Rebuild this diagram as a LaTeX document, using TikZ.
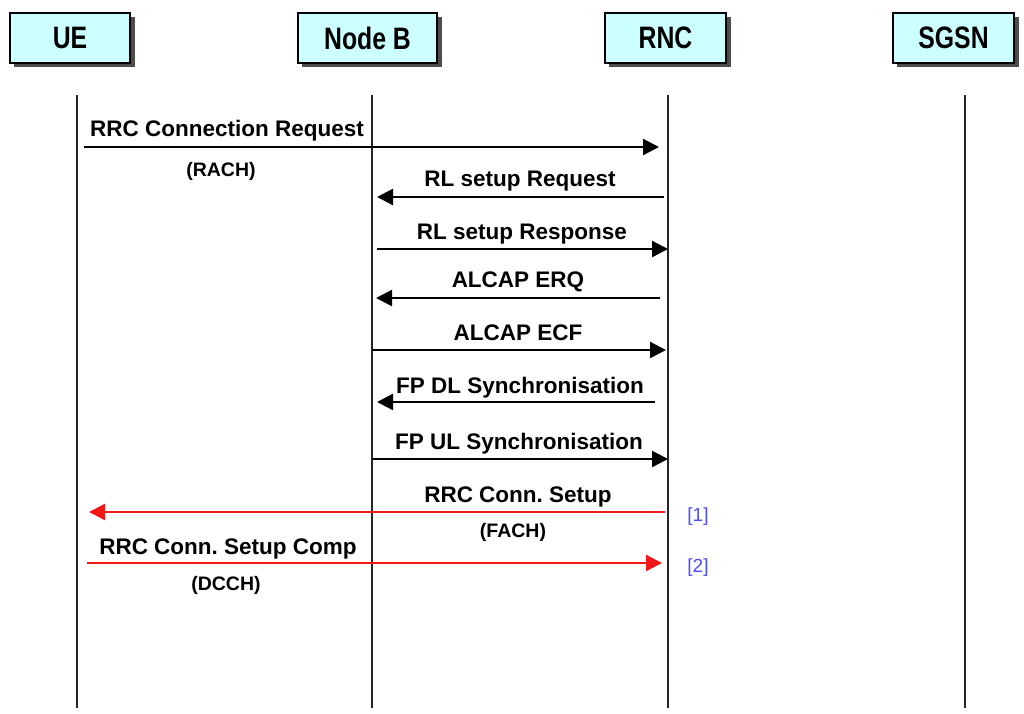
\documentclass[tikz,border=0pt]{standalone}
\usepackage{fontspec}
\setmainfont{Liberation Sans}
\usetikzlibrary{arrows.meta}
\definecolor{boxfill}{HTML}{CCFFFF}
\definecolor{refblue}{HTML}{4B4BFF}
\definecolor{msgred}{HTML}{F01818}
\tikzset{
  ent/.style={draw=black,line width=2.2pt,fill=boxfill,minimum height=50pt,inner sep=0pt},
  shadowbox/.style={fill=black!70,draw=none,minimum height=50pt,inner sep=0pt},
  life/.style={line width=2.2pt,black!85},
  msg/.style={line width=2.3pt,-{Triangle[length=16pt,width=16pt]}},
  redmsg/.style={msg,msgred},
  lbl/.style={anchor=base,inner sep=0pt,font=\fontsize{22.5}{25}\selectfont\bfseries},
  sub/.style={anchor=base,inner sep=0pt,font=\fontsize{19.5}{22}\selectfont\bfseries},
  refl/.style={anchor=base,inner sep=0pt,text=refblue,font=\fontsize{19}{22}\selectfont}
}
\newcommand{\hdr}[1]{\scalebox{0.8}[1]{\fontsize{31}{34}\selectfont\bfseries #1}}
\frenchspacing
\begin{document}
\begin{tikzpicture}[x=1pt,y=-1pt]
\useasboundingbox (0,0) rectangle (1024,713);
% shadows
\node[shadowbox,minimum width=121pt] at (74,42) {};
\node[shadowbox,minimum width=140pt] at (371.5,42) {};
\node[shadowbox,minimum width=122pt] at (669.5,42) {};
\node[shadowbox,minimum width=122pt] at (957.5,42) {};
% entity boxes
\node[ent,minimum width=120pt] (ue) at (70,38) {\hdr{UE}};
\node[ent,minimum width=139pt] (nb) at (367.5,38) {\hdr{Node B}};
\node[ent,minimum width=121pt] (rnc) at (665.5,38) {\hdr{RNC}};
\node[ent,minimum width=121pt] (sgsn) at (953.5,38) {\hdr{SGSN}};
% lifelines
\coordinate (ueT) at (77,95);   \coordinate (ueB) at (77,708);
\coordinate (nbT) at (372,95);  \coordinate (nbB) at (372,708);
\coordinate (rncT) at (668,95); \coordinate (rncB) at (668,708);
\coordinate (sgT) at (965,95);  \coordinate (sgB) at (965,708);
\draw[life] (ueT) -- (ueB);
\draw[life] (nbT) -- (nbB);
\draw[life] (rncT) -- (rncB);
\draw[life] (sgT) -- (sgB);
% message end points
\coordinate (a1) at (84,147);  \coordinate (b1) at (659,147);
\coordinate (a2) at (664,197); \coordinate (b2) at (377,197);
\coordinate (a3) at (377,249); \coordinate (b3) at (668,249);
\coordinate (a4) at (660,298); \coordinate (b4) at (376,298);
\coordinate (a5) at (372,350); \coordinate (b5) at (666,350);
\coordinate (a6) at (655,402); \coordinate (b6) at (377,402);
\coordinate (a7) at (373,459); \coordinate (b7) at (668,459);
\coordinate (a8) at (665,512); \coordinate (b8) at (89,512);
\coordinate (a9) at (87,563);  \coordinate (b9) at (662,563);
% messages
\draw[msg] (a1) -- (b1);
\draw[msg] (a2) -- (b2);
\draw[msg] (a3) -- (b3);
\draw[msg] (a4) -- (b4);
\draw[msg] (a5) -- (b5);
\draw[msg] (a6) -- (b6);
\draw[msg] (a7) -- (b7);
\draw[redmsg] (a8) -- (b8);
\draw[redmsg] (a9) -- (b9);
% labels
\node[lbl] (l1) at (227,136) {RRC Connection Request};
\node[sub] (s1) at (221,176) {(RACH)};
\node[lbl] (l2) at (520,186) {RL setup Request};
\node[lbl] (l3) at (522,239) {RL setup Response};
\node[lbl] (l4) at (518,287) {ALCAP ERQ};
\node[lbl] (l5) at (518,340) {ALCAP ECF};
\node[lbl] (l6) at (520,393) {FP DL Synchronisation};
\node[lbl] (l7) at (519,449) {FP UL Synchronisation};
\node[lbl] (l8) at (518,502) {RRC Conn. Setup};
\node[sub] (s8) at (513,537) {(FACH)};
\node[lbl] (l9) at (228,554) {RRC Conn. Setup Comp};
\node[sub] (s9) at (226,590) {(DCCH)};
\node[refl] (r1) at (698,521) {[1]};
\node[refl] (r2) at (698,572) {[2]};
\end{tikzpicture}
\end{document}
